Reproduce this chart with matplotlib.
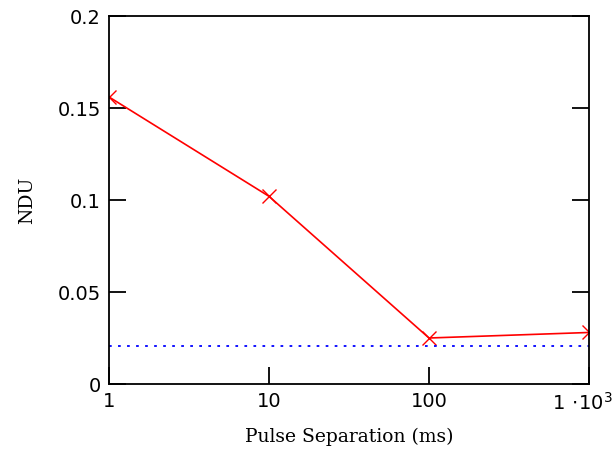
import matplotlib.pyplot as plt
import matplotlib.transforms as mtransforms

separation = [1, 10, 100, 1000]
ndu = [0.156, 0.102, 0.025, 0.028]
ndu_ref = 0.0205

x_ticks = [1, 10, 100, 1000]
x_labels = ['1', '10', '100', r'$1\,\cdot\!10^3$']
y_ticks = [0, 0.05, 0.1, 0.15, 0.2]
y_labels = ['0', '0.05', '0.1', '0.15', '0.2']

plt.rcParams['mathtext.fontset'] = 'dejavusans'

fig = plt.figure(figsize=(6.13, 4.54), dpi=100)
ax = fig.add_axes([109 / 613, 1 - 384 / 454, 480 / 613, 368 / 454])

ax.plot(separation, ndu, color='red', lw=1.2, marker='x', markersize=10, mew=1)
ax.axhline(ndu_ref, color='blue', lw=1.3, ls=(0, (1.5, 3.5)))

ax.set_xscale('log')
ax.set_xlim(1, 1000)
ax.set_ylim(0, 0.2)
ax.set_xticks(x_ticks)
ax.set_xticklabels(x_labels, fontsize=14, family='DejaVu Sans')
ax.minorticks_off()
ax.set_yticks(y_ticks)
ax.set_yticklabels(y_labels, fontsize=14, family='DejaVu Sans')
ax.tick_params(direction='in', length=12, width=1.3, right=True, pad=6)

# last x label sits a bit to the right, like the original
last = ax.get_xticklabels()[-1]
last.set_ha('right')
last.set_transform(last.get_transform() + mtransforms.ScaledTranslation(24 / 100, 0, fig.dpi_scale_trans))

for s in ax.spines.values():
    s.set_linewidth(1.3)

ax.set_xlabel('Pulse Separation (ms)', fontsize=13.5, family='DejaVu Serif', labelpad=10)
ax.set_ylabel('NDU', fontsize=13.5, family='DejaVu Serif', labelpad=15)

fig.savefig('out.png', dpi=100)
